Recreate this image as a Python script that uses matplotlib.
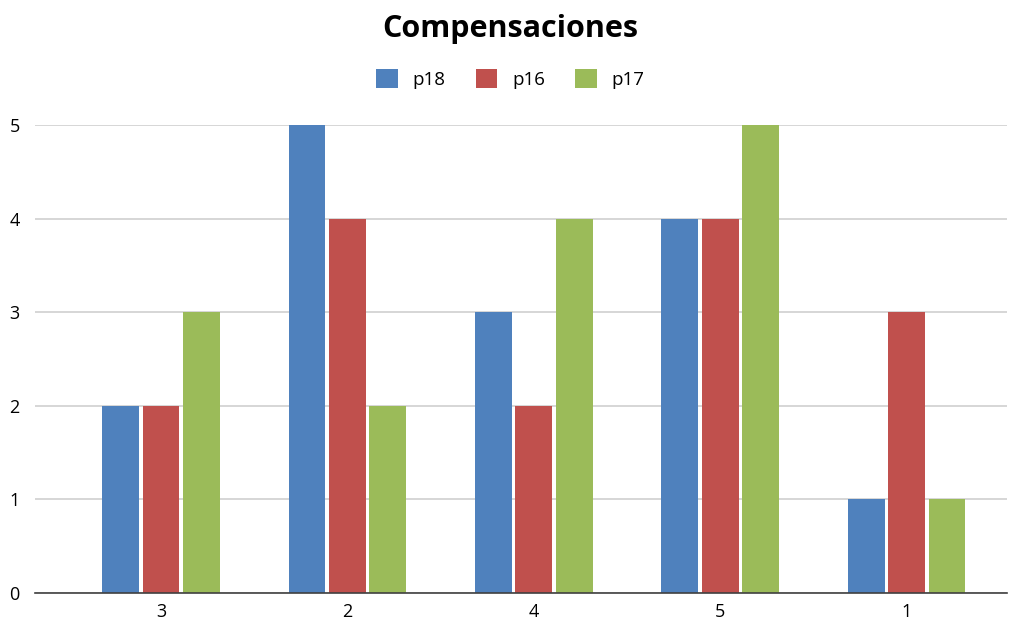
import matplotlib.pyplot as plt
import numpy as np

plt.rcParams['font.family'] = ['Open Sans', 'DejaVu Sans']

# categorías y series
categorias = ['3', '2', '4', '5', '1']
p18 = [2, 5, 3, 4, 1]
p16 = [2, 4, 2, 4, 3]
p17 = [3, 2, 4, 5, 1]

series = [('p18', p18, '#4F81BD'), ('p16', p16, '#C0504D'), ('p17', p17, '#9BBB59')]

fig = plt.figure(figsize=(10.21, 6.23), dpi=100)
ax = fig.add_axes([0.0343, 0.0482, 0.9520, 0.7512])

x = np.arange(len(categorias))
ancho = 0.198
paso = 0.217
for i, (nombre, vals, color) in enumerate(series):
    ax.bar(x + (i - 1) * paso, vals, ancho, color=color, label=nombre, zorder=3)

ax.set_xlim(-0.676, 4.539)
ax.set_ylim(0, 5)
ax.set_yticks(range(6))
ax.set_xticks(x)
ax.set_xticklabels(categorias)
ax.grid(axis='y', color='#D0D0D0', linewidth=1.2, zorder=0)
for s in ['top', 'right', 'left']:
    ax.spines[s].set_visible(False)
ax.spines['bottom'].set_color('#404040')
ax.spines['bottom'].set_linewidth(1.2)
ax.spines['bottom'].set_zorder(4)
ax.tick_params(axis='both', length=0, labelsize=13, colors='black')
ax.tick_params(axis='y', pad=11)
ax.tick_params(axis='x', pad=7)

fig.text(0.5, 0.953, 'Compensaciones', ha='center', va='center', fontsize=22, fontweight='bold')
fig.legend(loc='center', bbox_to_anchor=(0.5, 0.873), ncol=3, frameon=False,
           fontsize=13.5, handlelength=1.15, handleheight=1.2, columnspacing=1.6, handletextpad=0.8)

fig.savefig('out.png', dpi=100)
